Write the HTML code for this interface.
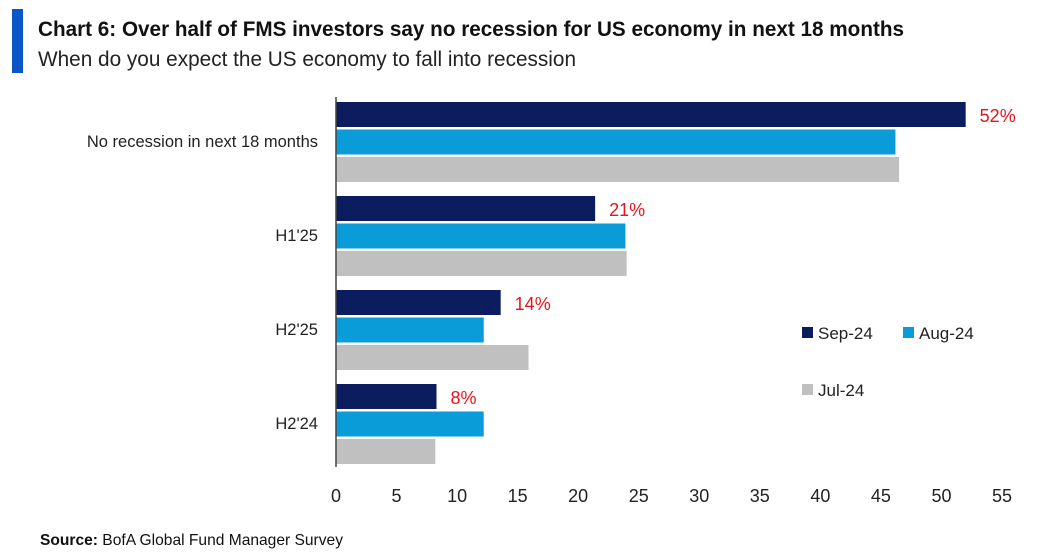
<!DOCTYPE html>
<html><head><meta charset="utf-8"><style>
body{margin:0;background:#fff;}
svg{display:block;font-family:"Liberation Sans Narrow","Liberation Sans",sans-serif;}
</style></head><body>
<svg id="c" width="1050" height="556">
<rect x="12" y="9" width="11" height="64" fill="#0a56c8"/>
<text x="38" y="36" font-size="21" font-weight="bold" fill="#111" textLength="866" lengthAdjust="spacingAndGlyphs">Chart 6: Over half of FMS investors say no recession for US economy in next 18 months</text>
<text x="38" y="66" font-size="21" fill="#222" textLength="538" lengthAdjust="spacingAndGlyphs">When do you expect the US economy to fall into recession</text>
<text x="40" y="545" font-size="16" fill="#111" textLength="303" lengthAdjust="spacingAndGlyphs"><tspan font-weight="bold">Source:</tspan> BofA Global Fund Manager Survey</text>
<g id="plot"></g>
</svg>
<script>
const categories=["No recession in next 18 months","H1'25","H2'25","H2'24"];
const sep24=[52,21.4,13.6,8.3];
const aug24=[46.2,23.9,12.2,12.2];
const jul24=[46.5,24,15.9,8.2];
const sepLabels=["52%","21%","14%","8%"];
const xTicks=[0,5,10,15,20,25,30,35,40,45,50,55];
const NS="http://www.w3.org/2000/svg";
const g=document.getElementById('plot');
const x=v=>336+v*(1002-336)/55;
const groupY=i=>102+i*94;
function mk(t,a,txt){const e=document.createElementNS(NS,t);for(const k in a)e.setAttribute(k,a[k]);if(txt!=null)e.textContent=txt;g.appendChild(e);return e;}
const series=[[sep24,"#0b1d5e","sep-24"],[aug24,"#0a9bd9","aug-24"],[jul24,"#c0c0c0","jul-24"]];
categories.forEach((c,i)=>{
 series.forEach((s,j)=>{
  const r=mk('rect',{x:x(0),y:groupY(i)+j*27.5,width:x(s[0][i])-x(0),height:25,fill:s[1]});
  
  
 });
 const l=mk('text',{x:x(sep24[i])+14,y:groupY(i)+20,'font-size':18,fill:'#e8141c'},sepLabels[i]);
 
 
 const cl=mk('text',{x:318,y:groupY(i)+45,'font-size':16.5,fill:'#222','text-anchor':'end'},c);
 
 
});
const ax=mk('line',{x1:x(0),x2:x(0),y1:97,y2:467,stroke:'#444','stroke-width':1.5});


xTicks.forEach(t=>{
 const e=mk('text',{x:x(t),y:502,'font-size':18,fill:'#222','text-anchor':'middle'},String(t));
 
 
});
const leg=[["Sep-24","#0b1d5e",802,333],["Aug-24","#0a9bd9",903,333],["Jul-24","#c0c0c0",802,390]];
leg.forEach(L=>{
 const s=mk('rect',{x:L[2],y:L[3]-6,width:11,height:11,fill:L[1]});
 
 
 const t=mk('text',{x:L[2]+16,y:L[3]+6,'font-size':17,fill:'#222'},L[0]);
 
 
});
</script>
</body></html>
